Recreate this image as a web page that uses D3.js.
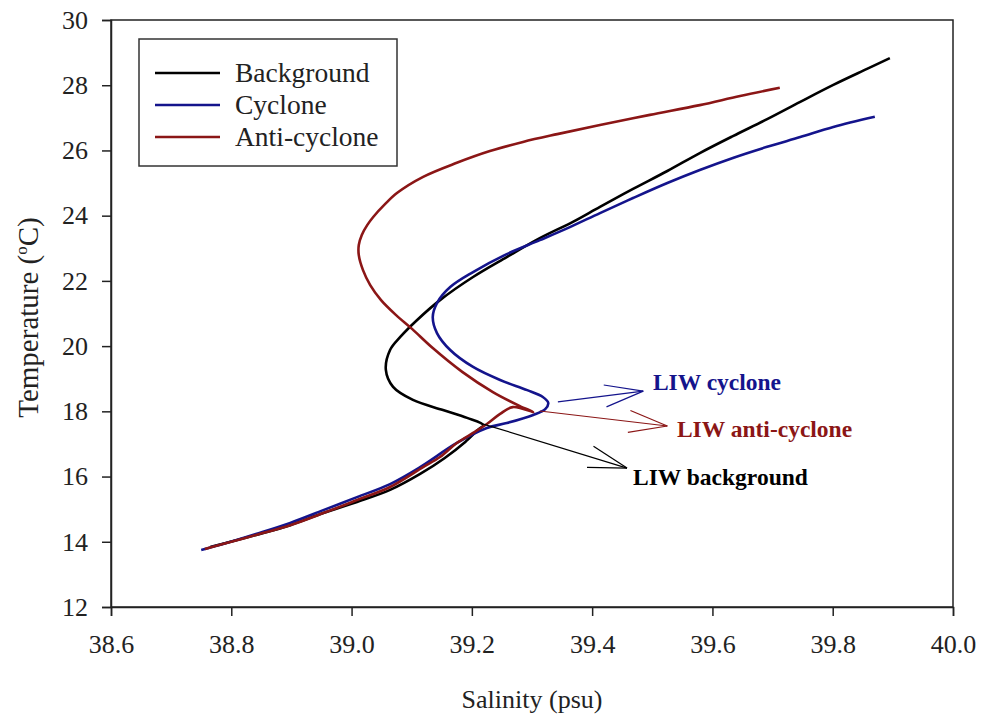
<!DOCTYPE html>
<html><head><meta charset="utf-8">
<script src="https://cdn.jsdelivr.net/npm/d3@7"></script>
<style>body{margin:0;background:#fff}</style>
</head><body>
<svg id="c" width="984" height="717"></svg>
<script>
// ---------- data ----------
const seriesNames = ["Background", "Cyclone", "Anti-cyclone"];
const seriesColors = ["#000000", "#14148c", "#8b1616"];

const backgroundS = [38.765,38.841,38.898,38.953,39.009,39.064,39.114,39.155,39.189,39.210,39.219,39.192,39.152,39.102,39.069,39.057,39.064,39.081,39.109,39.147,39.202,39.258,39.313,39.368,39.413,39.468,39.525,39.579,39.634,39.691,39.746,39.801,39.857,39.895];
const backgroundT = [13.84,14.21,14.51,14.88,15.22,15.59,16.08,16.57,17.06,17.43,17.58,17.80,18.04,18.35,18.75,19.27,19.88,20.28,20.80,21.41,22.12,22.73,23.31,23.81,24.27,24.82,25.37,25.92,26.44,26.96,27.49,28.01,28.50,28.83];

const cycloneS = [38.750,38.786,38.841,38.898,38.953,39.009,39.064,39.114,39.175,39.225,39.258,39.302,39.322,39.327,39.318,39.292,39.247,39.202,39.164,39.142,39.135,39.142,39.164,39.202,39.258,39.313,39.363,39.413,39.468,39.525,39.579,39.634,39.691,39.746,39.801,39.870];
const cycloneT = [13.75,13.93,14.24,14.58,14.97,15.37,15.77,16.29,17.03,17.49,17.64,17.89,18.07,18.26,18.44,18.65,18.96,19.36,19.88,20.40,20.89,21.32,21.81,22.27,22.82,23.25,23.65,24.08,24.54,25.00,25.40,25.77,26.11,26.41,26.72,27.03];

const anticycloneS = [38.756,38.786,38.841,38.898,38.953,39.009,39.064,39.119,39.147,39.175,39.205,39.225,39.247,39.268,39.302,39.280,39.235,39.184,39.135,39.101,39.074,39.049,39.031,39.019,39.012,39.012,39.017,39.026,39.036,39.056,39.076,39.119,39.175,39.230,39.285,39.342,39.413,39.496,39.579,39.646,39.712];
const anticycloneT = [13.78,13.93,14.21,14.51,14.88,15.28,15.68,16.29,16.60,17.03,17.37,17.61,17.92,18.13,17.98,18.16,18.59,19.21,19.94,20.52,20.95,21.41,21.87,22.33,22.79,23.10,23.41,23.71,23.96,24.36,24.70,25.19,25.62,25.98,26.26,26.50,26.78,27.09,27.39,27.67,27.92];

const xTicks = [38.6,38.8,39.0,39.2,39.4,39.6,39.8,40.0];
const yTicks = [12,14,16,18,20,22,24,26,28,30];

// annotations: arrow start, arrow tip, label position (salinity, temperature)
const annoLabels = ["LIW cyclone", "LIW anti-cyclone", "LIW background"];
const annoStart = [[39.343,18.29],[39.313,18.01],[39.219,17.61]];
const annoTip   = [[39.485,18.62],[39.525,17.55],[39.458,16.26]];
const annoText  = [[39.501,18.65],[39.541,17.21],[39.468,15.74]];
const annoColors = ["#14148c","#8b1616","#000000"];

// ---------- chart ----------
const svg = d3.select("#c");
const L = 111, R = 953, T = 20, B = 607;
const x = d3.scaleLinear().domain([38.6, 40.0]).range([L, R]);
const y = d3.scaleLinear().domain([12, 30]).range([B, T]);
const font = "Liberation Serif";

// frame
svg.append("rect").attr("x", L).attr("y", T).attr("width", R - L).attr("height", B - T)
  .attr("fill", "none").attr("stroke", "#222").attr("stroke-width", 1.5);

const xAxis = svg.append("g").attr("transform", `translate(0,${B})`)
  .call(d3.axisBottom(x).tickValues(xTicks).tickFormat(d3.format(".1f")).tickSize(9).tickPadding(19));
const yAxis = svg.append("g").attr("transform", `translate(${L},0)`)
  .call(d3.axisLeft(y).tickValues(yTicks).tickFormat(d3.format("d")).tickSize(9).tickPadding(14));
[xAxis, yAxis].forEach(g => {
  g.attr("font-family", font);
  g.select(".domain").attr("stroke", "#222").attr("stroke-width", 1.5);
  g.selectAll(".tick line").attr("stroke", "#222").attr("stroke-width", 1.5);
  g.selectAll(".tick text").attr("font-family", font).attr("font-size", 26).attr("fill", "#222");
});

// axis titles
svg.append("text").attr("x", (L + R) / 2).attr("y", 708).attr("text-anchor", "middle")
  .attr("font-family", font).attr("font-size", 26).attr("fill", "#222").text("Salinity (psu)");
const yt = svg.append("text").attr("transform", `translate(38,${(T + B) / 2 + 4}) rotate(-90)`)
  .attr("text-anchor", "middle").attr("font-family", font).attr("font-size", 29).attr("fill", "#222");
yt.append("tspan").text("Temperature (");
yt.append("tspan").attr("font-size", 17).attr("dy", -11).text("o");
yt.append("tspan").attr("dy", 11).text("C)");

// series
const series = [
  {S: backgroundS, T: backgroundT},
  {S: cycloneS, T: cycloneT},
  {S: anticycloneS, T: anticycloneT}
];
const line = d3.line().x(d => x(d[0])).y(d => y(d[1])).curve(d3.curveCatmullRom.alpha(0.5));
series.forEach((s, i) => {
  const pts = s.S.map((v, j) => [v, s.T[j]]);
  svg.append("path").attr("d", line(pts)).attr("fill", "none")
    .attr("stroke", seriesColors[i]).attr("stroke-width", 2.6).attr("stroke-linejoin", "round");
});

// annotations
annoLabels.forEach((lab, i) => {
  const x0 = x(annoStart[i][0]), y0 = y(annoStart[i][1]);
  const x1 = x(annoTip[i][0]), y1 = y(annoTip[i][1]);
  const g = svg.append("g").attr("stroke", annoColors[i]).attr("stroke-width", 1.2).attr("fill", "none");
  g.append("line").attr("x1", x0).attr("y1", y0).attr("x2", x1).attr("y2", y1);
  const ang = Math.atan2(y1 - y0, x1 - x0);
  const len = 40, half = 16 * Math.PI / 180;
  [-1, 1].forEach(sg => {
    const a = ang + Math.PI + sg * half;
    g.append("line").attr("x1", x1).attr("y1", y1)
      .attr("x2", x1 + len * Math.cos(a)).attr("y2", y1 + len * Math.sin(a));
  });
  svg.append("text").attr("x", x(annoText[i][0])).attr("y", y(annoText[i][1]))
    .attr("font-family", font).attr("font-weight", "bold").attr("font-size", 23.5)
    .attr("fill", annoColors[i]).text(lab);
});

// legend
const lg = svg.append("g");
lg.append("rect").attr("x", 139).attr("y", 39).attr("width", 258).attr("height", 127)
  .attr("fill", "#fff").attr("stroke", "#333").attr("stroke-width", 1.5);
seriesNames.forEach((n, i) => {
  const yy = 73 + i * 32;
  lg.append("line").attr("x1", 155).attr("x2", 220).attr("y1", yy).attr("y2", yy)
    .attr("stroke", seriesColors[i]).attr("stroke-width", 2.6);
  lg.append("text").attr("x", 235).attr("y", yy + 9).attr("font-family", font)
    .attr("font-size", 27.5).attr("fill", "#222").text(n);
});
</script>
</body></html>
